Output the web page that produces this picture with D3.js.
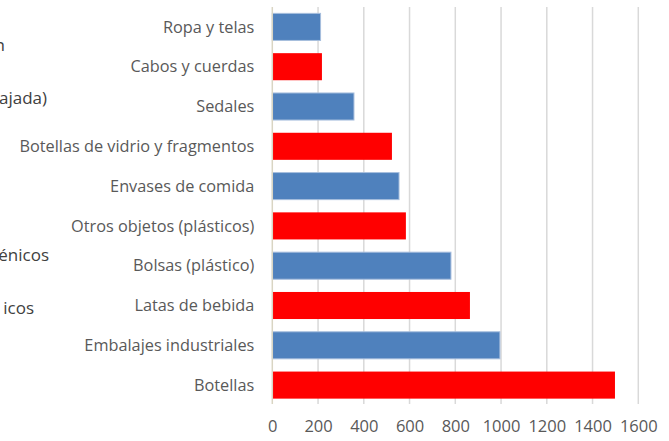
<html>
    <head>
        <script src="https://d3js.org/d3.v7.min.js"></script>
        <meta charset="utf-8" />
        <title>Residuos</title>
        <style>
            body { margin: 0px; background: #fff; }
            .domain { display: none; }
            .cat text { fill: #595959; font-size: 16.3px; font-family: "Open Sans", sans-serif; }
            .xax text { fill: #595959; font-size: 16.5px; font-family: "Open Sans", sans-serif; }
            .side { fill: #404040; font-size: 17px; font-family: "Open Sans", sans-serif; }
        </style>
    </head>
    <body>
        <script type="text/javascript">
            // categories from top to bottom
            var categories = ["Ropa y telas", "Cabos y cuerdas", "Sedales", "Botellas de vidrio y fragmentos",
                "Envases de comida", "Otros objetos (plásticos)", "Bolsas (plástico)", "Latas de bebida",
                "Embalajes industriales ", "Botellas"];
            var values = [211, 217, 357, 523, 554, 584, 781, 864, 995, 1498];
            var barColors = ["#4F81BD", "#FF0000", "#4F81BD", "#FF0000", "#4F81BD", "#FF0000", "#4F81BD", "#FF0000", "#4F81BD", "#FF0000"];
            var xTicks = [0, 200, 400, 600, 800, 1000, 1200, 1400, 1600];
            // cut off text at the left edge
            var sideTexts = ["n", "ajada)", "énicos", "icos"];
            var sideY = [45, 98, 255, 308];
            var sideRight = [5, 47, 49, 34];

            var width = 669, height = 441;
            var svg = d3.select("body").append("svg")
                .attr("width", width)
                .attr("height", height);

            var x = d3.scaleLinear()
                .domain([0, 1600])
                .range([272.3, 638.3]);

            var y = d3.scaleBand()
                .domain(categories)
                .range([7, 405])
                .paddingInner(0.32)
                .paddingOuter(0.16);

            // gridlines
            svg.append("g")
                .selectAll("line")
                .data(xTicks.slice(1))
                .enter()
                .append("line")
                    .attr("x1", d => x(d))
                    .attr("x2", d => x(d))
                    .attr("y1", 7)
                    .attr("y2", 404)
                    .style("stroke", "#D9D9D9")
                    .style("stroke-width", 1.5);

            // bars
            svg.append("g")
                .selectAll("rect")
                .data(categories)
                .enter()
                .append("rect")
                    .attr("x", x(0))
                    .attr("y", d => y(d))
                    .attr("width", (d, i) => x(values[i]) - x(0))
                    .attr("height", y.bandwidth())
                    .style("fill", (d, i) => barColors[i])
                    .style("stroke", (d, i) => barColors[i] == "#4F81BD" ? "#A7BEDD" : "none")
                    .style("stroke-width", 1);

            // vertical axis line
            svg.append("line")
                .attr("x1", x(0))
                .attr("x2", x(0))
                .attr("y1", 7)
                .attr("y2", 404)
                .style("stroke", "#D9D5C3")
                .style("stroke-width", 1.5);

            // category labels
            svg.append("g")
                .attr("class", "cat")
                .attr("transform", "translate(" + (x(0) - 18) + ",0)")
                .call(d3.axisLeft(y).tickSize(0).tickPadding(0))
                .selectAll("text")
                .attr("dy", "0.35em");

            // x tick labels
            svg.append("g")
                .attr("class", "xax")
                .attr("transform", "translate(0,420)")
                .call(d3.axisBottom(x).tickValues(xTicks).tickSize(0).tickPadding(0).tickFormat(d3.format("d")));

            // left side texts
            svg.append("g")
                .selectAll("text")
                .data(sideTexts)
                .enter()
                .append("text")
                    .attr("class", "side")
                    .attr("x", (d, i) => sideRight[i])
                    .attr("y", (d, i) => sideY[i])
                    .attr("dy", "0.35em")
                    .attr("text-anchor", "end")
                    .text(d => d);
        </script>
    </body>
</html>
